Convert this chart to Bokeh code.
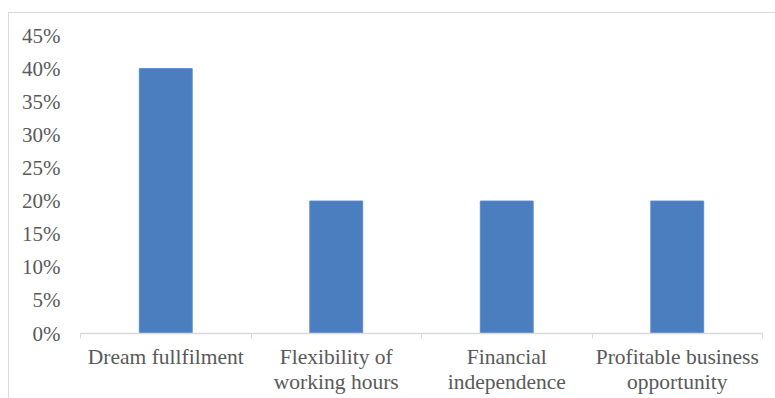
from bokeh.plotting import figure
from bokeh.models import ColumnDataSource, FixedTicker, Range1d
from bokeh.embed import file_html
from bokeh.resources import INLINE

# Reasons for starting a business (share of respondents)
categories = [
    "Dream fullfilment",
    "Flexibility of\nworking hours",
    "Financial\nindependence",
    "Profitable business\nopportunity",
]
shares = [0.40, 0.20, 0.20, 0.20]
y_ticks = [0.0, 0.05, 0.10, 0.15, 0.20, 0.25, 0.30, 0.35, 0.40, 0.45]
y_labels = ["0%", "5%", "10%", "15%", "20%", "25%", "30%", "35%", "40%", "45%"]

positions = [i + 0.5 for i in range(len(categories))]
source = ColumnDataSource(data=dict(x=positions, share=shares))

TEXT = "#595959"
LINE = "#d9d9d9"
FONT = "Liberation Serif"

# the chart sits in a light frame offset from the page corner
p = figure(
    width=767, height=386,
    x_range=Range1d(0, len(categories)),
    y_range=Range1d(0, 0.45),
    output_backend="svg", toolbar_location=None,
    min_border_left=71, min_border_right=14,
    min_border_top=22, min_border_bottom=66,
    margin=(12, 0, 0, 8),
    styles={"border-top": "1.5px solid #d9d9d9", "border-left": "1.5px solid #d9d9d9"},
)
p.outline_line_color = None
p.background_fill_color = "white"
p.border_fill_color = "white"
p.xgrid.visible = False
p.ygrid.visible = False

p.vbar(x="x", top="share", width=0.31, source=source,
       fill_color="#4a7ebf", line_color="#5a8bc8", line_width=1)

# category axis: labels centred under bars, ticks on the boundaries
xa = p.xaxis[0]
xa.ticker = FixedTicker(ticks=positions, minor_ticks=list(range(len(categories) + 1)))
xa.major_label_overrides = {pos: cat for pos, cat in zip(positions, categories)}
xa.major_tick_line_color = None
xa.major_tick_out = 0
xa.major_tick_in = 0
xa.minor_tick_line_color = LINE
xa.minor_tick_out = 5
xa.minor_tick_in = 0
xa.axis_line_color = LINE
xa.axis_line_width = 1.5
xa.major_label_text_font = FONT
xa.major_label_text_font_size = "21.5px"
xa.major_label_text_line_height = 1.08
xa.major_label_text_color = TEXT
xa.major_label_standoff = 6

ya = p.yaxis[0]
ya.ticker = FixedTicker(ticks=y_ticks)
ya.major_label_overrides = {t: l for t, l in zip(y_ticks, y_labels)}
ya.axis_line_color = None
ya.major_tick_line_color = None
ya.major_tick_out = 0
ya.major_tick_in = 0
ya.minor_tick_line_color = None
ya.major_label_text_font = FONT
ya.major_label_text_font_size = "21px"
ya.major_label_text_color = TEXT
ya.major_label_standoff = 20

open("out.html", "w").write(file_html(p, INLINE))
